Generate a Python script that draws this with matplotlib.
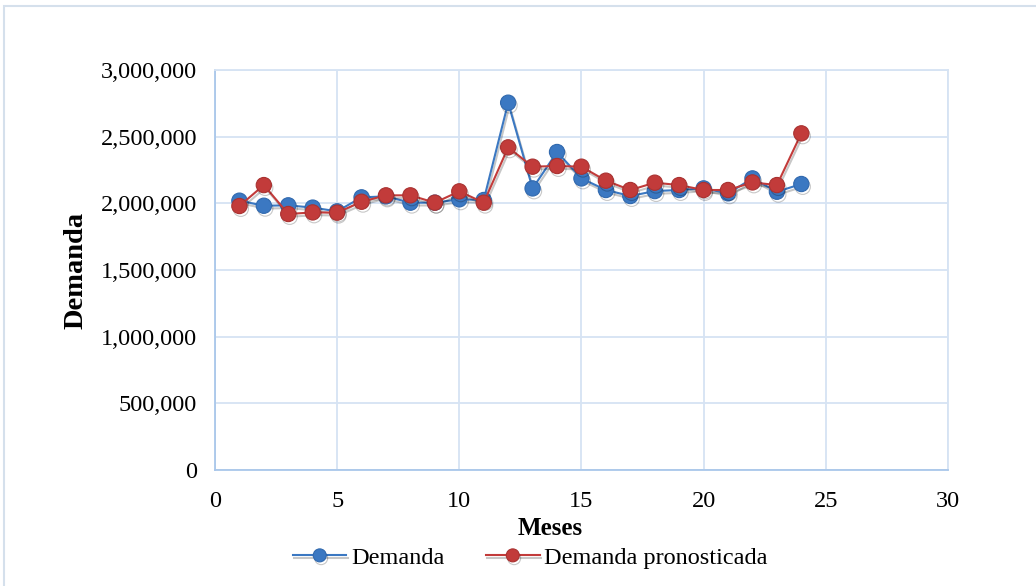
import matplotlib.pyplot as plt
import matplotlib.patheffects as pe
from matplotlib.ticker import FuncFormatter

plt.rcParams['font.family'] = ['Liberation Serif', 'DejaVu Serif']

# Meses 1..24
meses = list(range(1, 25))

demanda = [2020000, 1982000, 1985000, 1968000, 1940000, 2045000, 2052000, 2005000,
           2005000, 2030000, 2025000, 2755000, 2112000, 2385000, 2187000, 2100000,
           2055000, 2092000, 2100000, 2112000, 2075000, 2187000, 2087000, 2145000]

pronostico = [1980000, 2137000, 1920000, 1932000, 1930000, 2012000, 2060000, 2060000,
              2005000, 2090000, 2005000, 2420000, 2275000, 2280000, 2275000, 2170000,
              2100000, 2155000, 2137000, 2100000, 2100000, 2157000, 2137000, 2525000]

blue = '#3B78C2'
red = '#C23B3A'
grid_col = '#D6E3F3'
axis_col = '#A9C7EA'

fig = plt.figure(figsize=(10.36, 5.86), dpi=100)
ax = fig.add_axes([0.2075, 0.198, 0.7075, 0.6825])

shadow = [pe.SimpleLineShadow(offset=(1, -2), shadow_color='black', alpha=0.22), pe.Normal()]

ax.plot(meses, demanda, color=blue, linewidth=1.5, marker='o', markersize=11,
        markerfacecolor=blue, markeredgecolor='#3169AE', markeredgewidth=0.8,
        label='Demanda', path_effects=shadow, zorder=3)
ax.plot(meses, pronostico, color=red, linewidth=1.5, marker='o', markersize=11,
        markerfacecolor=red, markeredgecolor='#A93231', markeredgewidth=0.8,
        label='Demanda pronosticada', path_effects=shadow, zorder=4)

ax.set_xlim(0, 30)
ax.set_ylim(0, 3000000)
ax.set_xticks(range(0, 31, 5))
ax.set_yticks(range(0, 3000001, 500000))
ax.yaxis.set_major_formatter(FuncFormatter(lambda v, p: f'{int(v):,}'))

ax.grid(True, color=grid_col, linewidth=1.3)
ax.set_axisbelow(True)
for s in ax.spines.values():
    s.set_color(grid_col)
    s.set_linewidth(1.3)
ax.spines['left'].set_color(axis_col)
ax.spines['bottom'].set_color(axis_col)
ax.tick_params(axis='both', length=0, labelsize=17.5)
ax.tick_params(axis='y', pad=13)
ax.tick_params(axis='x', pad=15)

ax.set_xlabel('Meses', fontsize=18, fontweight='bold')
ax.set_ylabel('Demanda', fontsize=20.5, fontweight='bold')
ax.xaxis.set_label_coords(0.457, -0.118)
ax.yaxis.set_label_coords(-0.172, 0.5)

fig.legend(loc='center', bbox_to_anchor=(0.512, 0.048), ncol=2, frameon=False,
           fontsize=17.5, handlelength=2.2, columnspacing=1.7, handletextpad=0.2,
           markerscale=0.85, borderaxespad=0)

# outer chart border
fig.patches.append(plt.Rectangle((0.004, -0.01), 1.0, 1.0, transform=fig.transFigure,
                                 fill=False, edgecolor='#D5E0EC', linewidth=1.5))

fig.savefig('out.png', dpi=100)
